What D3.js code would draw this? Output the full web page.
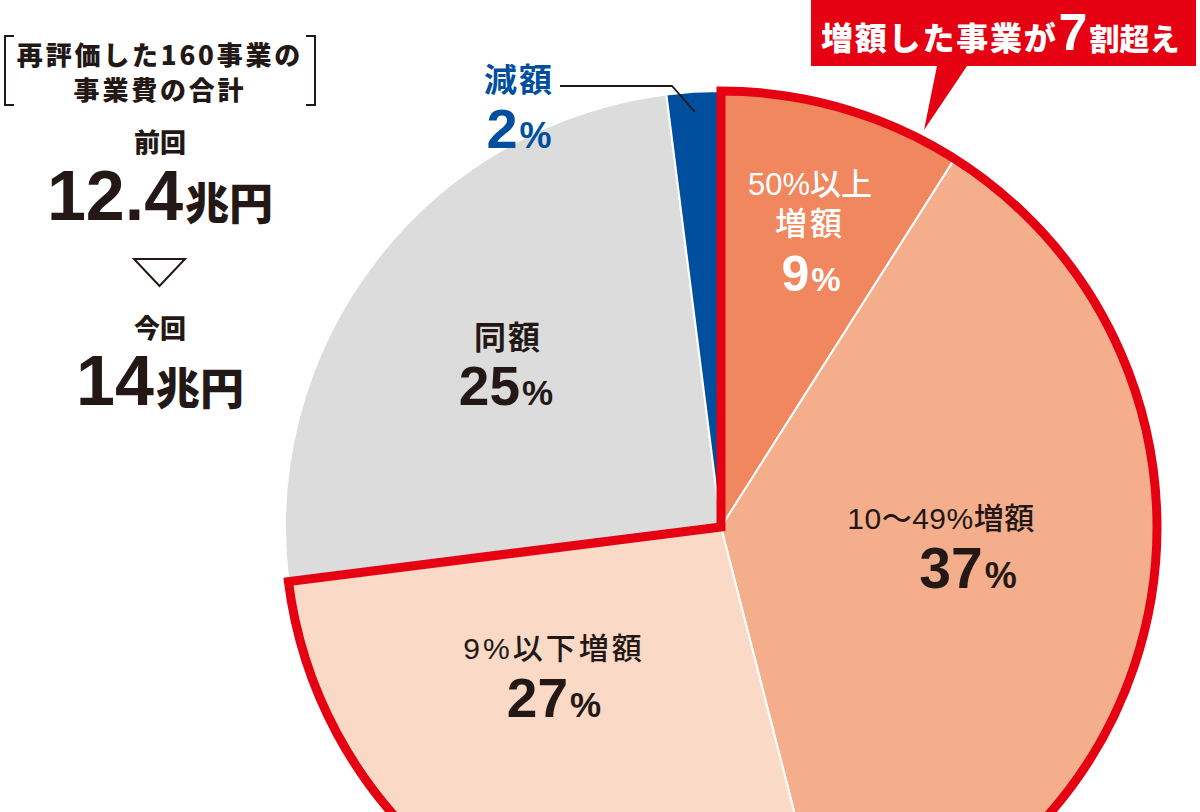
<!DOCTYPE html>
<html><head><meta charset="utf-8">
<script src="https://cdn.jsdelivr.net/npm/d3@7"></script>
<style>
html,body{margin:0;padding:0;background:#fff;}
svg{display:block;}
</style></head>
<body>
<script>
// ---- data ----
const categories = ["50%以上増額", "10〜49%増額", "9%以下増額", "同額", "減額"];
const values = [9, 37, 27, 25, 2];
const increaseKeys = ["50%以上増額", "10〜49%増額", "9%以下増額"];
const calloutText = ["増額した事業が", "7", "割超え"];
const summaryTitle = ["再評価した160事業の", "事業費の合計"];
const prevLabel = "前回", prevValue = "12.4", prevUnit = "兆円";
const currLabel = "今回", currValue = "14", currUnit = "兆円";

// ---- style / layout ----
const W = 1200, H = 812;
const cx = 721, cy = 527, R = 436;
const colors = {"50%以上増額":"#f0875f","10〜49%増額":"#f4ae8c","9%以下増額":"#fad9c6","同額":"#dcdcdc","減額":"#004f9f"};
const ink = "#231815", red = "#e50012";
const JP = "'Noto Sans CJK JP', sans-serif";
const LAT = "'Liberation Sans', 'Noto Sans CJK JP', sans-serif";

const svg = d3.select("body").append("svg").attr("width", W).attr("height", H);
const g = svg.append("g").attr("transform", `translate(${cx},${cy})`);

const pie = d3.pie().sort(null).value(d => d.v);
const data = categories.map((c, i) => ({c, v: values[i]}));
const arcs = pie(data);
const arc = d3.arc().innerRadius(0).outerRadius(R);

g.selectAll("path.slice").data(arcs).join("path")
  .attr("class", "slice")
  .attr("d", arc)
  .attr("fill", d => colors[d.data.c])
  .attr("stroke", "#fff").attr("stroke-width", 2).attr("stroke-linejoin", "round");

// red outline around increased slices
const incArcs = arcs.filter(a => increaseKeys.includes(a.data.c));
const incStart = d3.min(incArcs, a => a.startAngle), incEnd = d3.max(incArcs, a => a.endAngle);
g.append("path")
  .attr("d", arc({startAngle: incStart, endAngle: incEnd}))
  .attr("fill", "none").attr("stroke", red).attr("stroke-width", 9).attr("stroke-linejoin", "miter");

// ---- slice labels ----
const labelLayout = {
  "50%以上増額": {x: 810, lines: [{t: "50%以上", y: 184, size: 31, w: 500, fill: "#fff"}, {t: "増額", y: 224, size: 32, w: 500, fill: "#fff", ls: 3}], num: {y: 291, size: 50, psize: 33, fill: "#fff"}, nx: 811},
  "10〜49%増額": {x: 941, lines: [{t: "10〜49%増額", y: 518, size: 30, w: 500, fill: ink, ls: 0.5}], num: {y: 588, size: 57, psize: 36, fill: ink}, nx: 968},
  "9%以下増額": {x: 554, lines: [{t: "9%以下増額", y: 648, size: 30, w: 500, fill: ink, ls: 3}], num: {y: 717, size: 55, psize: 35, fill: ink}, nx: 554},
  "同額": {x: 508, lines: [{t: "同額", y: 338, size: 32, w: 700, fill: ink, ls: 2}], num: {y: 405, size: 55, psize: 35, fill: ink}, nx: 506},
  "減額": {x: 519, lines: [{t: "減額", y: 80, size: 33, w: 700, fill: colors["減額"], ls: 2}], num: {y: 148, size: 56, psize: 36, fill: colors["減額"]}, nx: 519}
};

data.forEach(d => {
  const L = labelLayout[d.c];
  L.lines.forEach(l => {
    svg.append("text").attr("x", L.x).attr("y", l.y)
      .attr("text-anchor", "middle").attr("dominant-baseline", "central")
      .attr("font-family", LAT).attr("font-weight", l.w).attr("font-size", l.size)
      .attr("letter-spacing", l.ls || 0)
      .attr("fill", l.fill).text(l.t);
  });
  const t = svg.append("text").attr("x", L.nx).attr("y", L.num.y)
    .attr("text-anchor", "middle").attr("font-family", LAT).attr("font-weight", 700)
    .attr("fill", L.num.fill);
  t.append("tspan").attr("font-size", L.num.size).text(d.v);
  t.append("tspan").attr("font-size", L.num.psize).attr("dx", 2).text("%");
});

// leader line for 減額
const blue = arcs.find(a => a.data.c === "減額");
const bm = (blue.startAngle + blue.endAngle) / 2;
const lp = [cx + Math.sin(bm) * (R - 20), cy - Math.cos(bm) * (R - 20)];
svg.append("polyline")
  .attr("points", `560,86 672,86 ${lp[0]},${lp[1]}`)
  .attr("fill", "none").attr("stroke", ink).attr("stroke-width", 1.8);

// ---- callout ----
svg.append("path")
  .attr("d", "M811,0 H1196 V66 H967 L924,130 L937,66 H811 Z")
  .attr("fill", red);
const ct = svg.append("text").attr("x", 821).attr("y", 50)
  .attr("font-family", JP).attr("font-weight", 900).attr("fill", "#fff");
ct.append("tspan").attr("font-size", 32).attr("letter-spacing", 1.8).text(calloutText[0]);
ct.append("tspan").attr("font-family", LAT).attr("font-size", 52).attr("dx", 1).text(calloutText[1]);
ct.append("tspan").attr("font-size", 30).attr("dx", 2).text(calloutText[2]);

// ---- left summary ----
const lx = 160;
summaryTitle.forEach((s, i) => {
  svg.append("text").attr("x", lx).attr("y", [53, 88][i])
    .attr("text-anchor", "middle").attr("dominant-baseline", "central")
    .attr("font-family", JP).attr("font-weight", 900).attr("font-size", 26)
    .attr("letter-spacing", 2.8).attr("fill", ink).text(s);
});
// brackets
svg.append("path").attr("d", "M14,36 H5 V105 H14").attr("fill", "none").attr("stroke", ink).attr("stroke-width", 2);
svg.append("path").attr("d", "M306,36 H315 V105 H306").attr("fill", "none").attr("stroke", ink).attr("stroke-width", 2);

function bigValue(label, val, unit, ly, vy) {
  svg.append("text").attr("x", lx).attr("y", ly)
    .attr("text-anchor", "middle").attr("dominant-baseline", "central")
    .attr("font-family", JP).attr("font-weight", 900).attr("font-size", 26)
    .attr("fill", ink).text(label);
  const t = svg.append("text").attr("x", lx).attr("y", vy).attr("text-anchor", "middle")
    .attr("font-family", LAT).attr("font-weight", 700).attr("fill", ink);
  t.append("tspan").attr("font-size", 70).text(val);
  t.append("tspan").attr("font-family", JP).attr("font-weight", 900).attr("font-size", 44).attr("dx", 2).text(unit);
}
bigValue(prevLabel, prevValue, prevUnit, 140, 220);
svg.append("path").attr("d", "M134,259 H185 L159.5,286 Z").attr("fill", "none").attr("stroke", ink).attr("stroke-width", 2);
bigValue(currLabel, currValue, currUnit, 326, 405);
</script>
</body></html>
